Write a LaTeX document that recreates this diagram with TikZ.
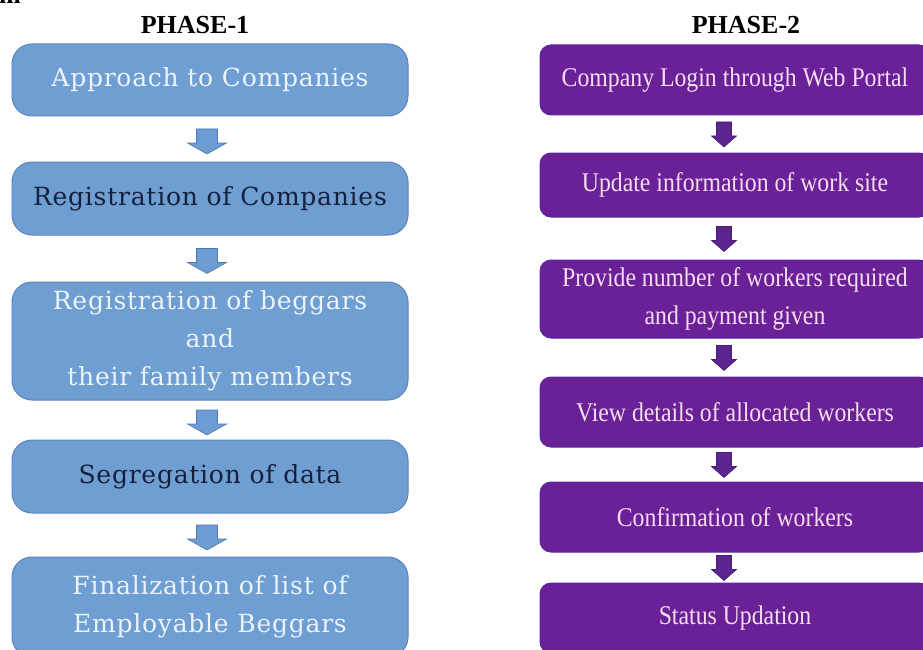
\documentclass[tikz,border=0pt]{standalone}
\usepackage{fontspec}
\setmainfont{Liberation Serif}
\newfontfamily\leftfont[LetterSpace=3]{DejaVu Serif}
\newfontfamily\rightfont[FakeStretch=0.88]{Liberation Serif}
\usetikzlibrary{calc}
\definecolor{lbfill}{RGB}{110,158,210}
\definecolor{lbdraw}{RGB}{88,134,188}
\definecolor{lblight}{RGB}{236,243,251}
\definecolor{lbdark}{RGB}{22,32,58}
\definecolor{rbfill}{RGB}{106,32,150}
\definecolor{rbdraw}{RGB}{90,40,160}
\definecolor{rbtext}{RGB}{246,222,242}
\definecolor{rarrow}{RGB}{92,36,142}
\definecolor{larrow}{RGB}{108,156,210}
\definecolor{larrowd}{RGB}{80,120,175}
\tikzset{
  lbox/.style={draw=lbdraw, line width=1pt, fill=lbfill, rounded corners=20pt,
    minimum width=396pt, align=center, inner sep=0pt,
    font=\leftfont\fontsize{25}{38}\selectfont},
  rbox/.style={draw=rbdraw, line width=1pt, fill=rbfill, rounded corners=11pt,
    minimum width=390pt, align=center, inner sep=0pt, text=rbtext,
    font=\rightfont\fontsize{27}{38}\selectfont},
  phase/.style={font=\bfseries\fontsize{26}{26}\selectfont},
  larrowstyle/.style={fill=larrow, draw=larrowd, line width=0.6pt},
  rarrowstyle/.style={fill=rarrow, draw=rarrow!80!black, line width=0.6pt},
}
\newcommand{\leftarr}[2]{%
  \path ($(#1.south)!0.5!(#2.north)$) ++(-3,2) coordinate (m#1);
  \draw[larrowstyle] (m#1) +(-10.5,-12) -- +(10.5,-12) -- +(10.5,2) -- +(19.5,2)
     -- +(0,13) -- +(-19.5,2) -- +(-10.5,2) -- cycle;}
\newcommand{\rightarr}[2]{%
  \path ($(#1.south)!0.5!(#2.north)$) ++(-11,0) coordinate (m#1);
  \draw[rarrowstyle] (m#1) +(-7.5,-12) -- +(7.5,-12) -- +(7.5,2) -- +(12.5,2)
     -- +(0,13) -- +(-12.5,2) -- +(-7.5,2) -- cycle;}
\begin{document}
\begin{tikzpicture}[x=1pt,y=-1pt]
\useasboundingbox (0,0) rectangle (923,650);
\fill[white] (0,0) rectangle (923,650);
\node[phase, anchor=base west, inner sep=0pt] (frag) at (-1,4) {m};
\node[phase] (p1) at (195,25) {PHASE-1};
\node[phase] (p2) at (746,25) {PHASE-2};
% left column
\node[lbox, minimum height=72pt, text=lblight] (a1) at (210,80) {Approach to Companies};
\node[lbox, minimum height=73pt, text=lbdark] (a2) at (210,198.5) {Registration of Companies};
\node[lbox, minimum height=118pt, text=lblight] (a3) at (210,341) {Registration of beggars\\and\\their family members};
\node[lbox, minimum height=73pt, text=lbdark] (a4) at (210,476.5) {Segregation of data};
\node[lbox, minimum height=100pt, text=lblight] (a5) at (210,607) {Finalization of list of\\Employable Beggars};
\leftarr{a1}{a2}
\leftarr{a2}{a3}
\leftarr{a3}{a4}
\leftarr{a4}{a5}
% right column
\node[rbox, minimum height=70pt] (b1) at (735,80) {Company Login through Web Portal};
\node[rbox, minimum height=64pt] (b2) at (735,185) {Update information of work site};
\node[rbox, minimum height=78pt] (b3) at (735,299) {Provide number of workers required\\and payment given};
\node[rbox, minimum height=70pt] (b4) at (735,412) {View details of allocated workers};
\node[rbox, minimum height=70pt] (b5) at (735,517) {Confirmation of workers};
\node[rbox, minimum height=70pt] (b6) at (735,618) {Status Updation};
\rightarr{b1}{b2}
\rightarr{b2}{b3}
\rightarr{b3}{b4}
\rightarr{b4}{b5}
\rightarr{b5}{b6}
\end{tikzpicture}
\end{document}
